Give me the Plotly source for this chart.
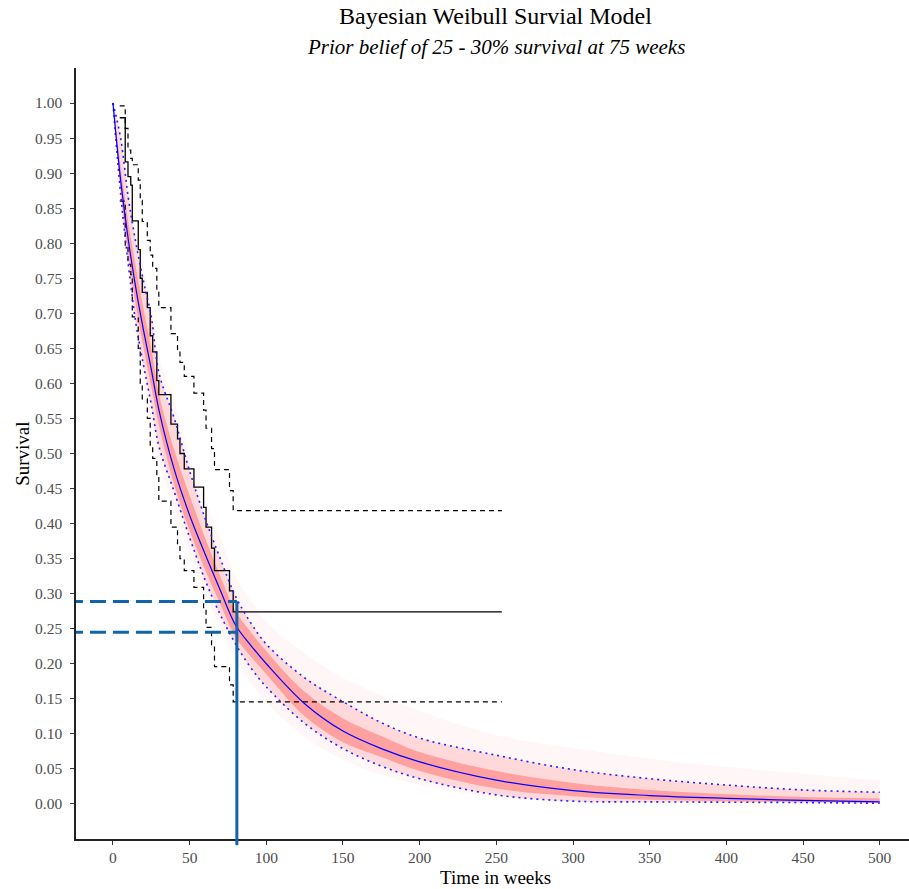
import plotly.graph_objects as go

# ---------------- data ----------------
# Kaplan-Meier estimate (step curve) with log-log confidence limits
km_time = [4.4, 8.0, 9.8, 11.6, 12.6, 16.5, 17.8, 19.1, 22.4, 24.3, 25.9, 28.6, 29.9,
           37.8, 42.1, 43.7, 46.5, 52.8, 59.1, 60.7, 64.3, 66.2, 76.0, 78.4, 253.6]
km_surv = [0.979, 0.916, 0.895, 0.883, 0.832, 0.791, 0.750, 0.730, 0.708, 0.668, 0.645, 0.604, 0.584,
           0.542, 0.521, 0.500, 0.478, 0.452, 0.423, 0.395, 0.365, 0.333, 0.304, 0.274, 0.274]
km_upper = [0.996, 0.964, 0.933, 0.921, 0.912, 0.890, 0.861, 0.831, 0.804, 0.783, 0.764, 0.733, 0.708,
            0.671, 0.647, 0.630, 0.610, 0.586, 0.562, 0.536, 0.507, 0.477, 0.447, 0.4185, 0.4185]
km_lower = [0.860, 0.795, 0.770, 0.755, 0.695, 0.650, 0.600, 0.578, 0.550, 0.510, 0.493, 0.470, 0.432,
            0.395, 0.370, 0.350, 0.333, 0.309, 0.280, 0.252, 0.225, 0.196, 0.170, 0.1455, 0.1455]

# Bayesian Weibull posterior survival curves
t_grid = [0, 5, 10, 15, 20, 25, 30, 40, 50, 60, 70, 80, 90, 100, 125, 150, 175, 200,
          250, 300, 350, 400, 450, 500]
post_median = [1.0, 0.89, 0.805, 0.735, 0.675, 0.62, 0.562, 0.477, 0.412, 0.357, 0.305, 0.255,
               0.226, 0.200, 0.143, 0.104, 0.079, 0.060, 0.034, 0.019, 0.012, 0.008, 0.005, 0.003]
cri_upper = [1.0, 0.95, 0.865, 0.80, 0.745, 0.695, 0.615, 0.55, 0.475, 0.408, 0.35, 0.296,
             0.258, 0.228, 0.18, 0.146, 0.116, 0.094, 0.0695, 0.049, 0.036, 0.027, 0.020, 0.0167]
cri_lower = [1.0, 0.87, 0.77, 0.685, 0.625, 0.57, 0.51, 0.445, 0.38, 0.32, 0.27, 0.228,
             0.194, 0.167, 0.115, 0.079, 0.054, 0.036, 0.013, 0.004, 0.003, 0.0025, 0.002, 0.001]
# extent of the faint posterior draws
draws_outer_upper = [1.0, 0.96, 0.88, 0.82, 0.765, 0.715, 0.64, 0.575, 0.5, 0.435, 0.38, 0.325,
                     0.29, 0.26, 0.215, 0.18, 0.155, 0.133, 0.098, 0.08, 0.065, 0.053, 0.043, 0.034]
draws_outer_lower = [1.0, 0.86, 0.755, 0.665, 0.6, 0.545, 0.49, 0.42, 0.355, 0.3, 0.25, 0.205,
                     0.172, 0.145, 0.095, 0.063, 0.042, 0.027, 0.009, 0.003, 0.002, 0.0015, 0.001, 0.0005]
# dense core of the posterior draws
draws_core_upper = [1.0, 0.91, 0.83, 0.765, 0.705, 0.65, 0.585, 0.505, 0.44, 0.38, 0.325, 0.275,
                    0.245, 0.218, 0.16, 0.122, 0.097, 0.074, 0.047, 0.03, 0.02, 0.014, 0.01, 0.008]
draws_core_lower = [1.0, 0.875, 0.785, 0.71, 0.65, 0.595, 0.54, 0.455, 0.39, 0.335, 0.285, 0.238,
                    0.21, 0.185, 0.125, 0.088, 0.067, 0.047, 0.022, 0.011, 0.006, 0.004, 0.003, 0.002]

# prior belief reference lines
prior_time = 80.8
prior_surv_high = 0.289
prior_surv_low = 0.245

x_ticks = list(range(0, 501, 50))
y_ticks = [round(i * 0.05, 2) for i in range(21)]
y_tick_text = [f"{v:.2f}" for v in y_ticks]

FONT = "Liberation Serif"
REF_BLUE = "#1064AA"

fig = go.Figure()


def band(upper, lower, color):
    fig.add_trace(go.Scatter(x=t_grid, y=upper, mode="lines", line=dict(width=0, shape="spline"),
                             hoverinfo="skip", showlegend=False))
    fig.add_trace(go.Scatter(x=t_grid, y=lower, mode="lines", line=dict(width=0, shape="spline"),
                             fill="tonexty", fillcolor=color, hoverinfo="skip", showlegend=False))


band(draws_outer_upper, draws_outer_lower, "rgba(255,0,0,0.03)")
band(cri_upper, cri_lower, "rgba(255,0,0,0.12)")
band(draws_core_upper, draws_core_lower, "rgba(255,0,0,0.26)")

# KM curves
fig.add_trace(go.Scatter(x=km_time, y=km_upper, mode="lines",
                         line=dict(color="black", width=1.2, dash="5px,4px", shape="hv"), showlegend=False))
fig.add_trace(go.Scatter(x=km_time, y=km_lower, mode="lines",
                         line=dict(color="black", width=1.2, dash="5px,4px", shape="hv"), showlegend=False))
fig.add_trace(go.Scatter(x=km_time, y=km_surv, mode="lines",
                         line=dict(color="black", width=1.3, shape="hv"), showlegend=False))

# posterior median and credible bounds
fig.add_trace(go.Scatter(x=t_grid, y=cri_upper, mode="lines",
                         line=dict(color="#2020FF", width=1.6, dash="2px,4px", shape="spline"), showlegend=False))
fig.add_trace(go.Scatter(x=t_grid, y=cri_lower, mode="lines",
                         line=dict(color="#2020FF", width=1.6, dash="2px,4px", shape="spline"), showlegend=False))
fig.add_trace(go.Scatter(x=t_grid, y=post_median, mode="lines",
                         line=dict(color="#0000FF", width=1.2, shape="spline"), showlegend=False))

# prior reference lines
shapes = [
    dict(type="line", xref="x", yref="y", x0=-30, x1=prior_time, y0=prior_surv_high, y1=prior_surv_high,
         line=dict(color=REF_BLUE, width=3, dash="16px,7px")),
    dict(type="line", xref="x", yref="y", x0=-30, x1=prior_time, y0=prior_surv_low, y1=prior_surv_low,
         line=dict(color=REF_BLUE, width=3, dash="16px,7px")),
    dict(type="line", xref="x", yref="y", x0=prior_time, x1=prior_time, y0=prior_surv_high, y1=-0.05,
         line=dict(color=REF_BLUE, width=3)),
    dict(type="line", xref="x", yref="paper", x0=prior_time, x1=prior_time, y0=-0.008, y1=0.0,
         line=dict(color=REF_BLUE, width=3)),
]

annotations = [
    dict(text="Bayesian Weibull Survial Model", xref="paper", yref="paper", x=0.504, y=1.067,
         showarrow=False, xanchor="center", yanchor="middle", font=dict(family=FONT, size=24, color="black")),
    dict(text="<i>Prior belief of 25 - 30% survival at 75 weeks</i>", xref="paper", yref="paper",
         x=0.504, y=1.027, showarrow=False, xanchor="center", yanchor="middle",
         font=dict(family=FONT, size=21, color="black")),
    dict(text="Survival", xref="paper", yref="paper", x=-0.0644, y=0.5, textangle=-90,
         showarrow=False, xanchor="center", yanchor="middle", font=dict(family=FONT, size=19, color="black")),
    dict(text="Time in weeks", xref="paper", yref="paper", x=0.504, y=-0.0495,
         showarrow=False, xanchor="center", yanchor="middle", font=dict(family=FONT, size=19, color="black")),
]

fig.update_layout(
    width=909, height=889,
    margin=dict(l=76, r=0, t=68, b=50, pad=0),
    plot_bgcolor="white", paper_bgcolor="white",
    shapes=shapes, annotations=annotations,
    showlegend=False,
    xaxis=dict(range=[-24.1, 519.1], tickmode="array", tickvals=x_ticks, showgrid=False, zeroline=False,
               showline=True, linecolor="#222222", linewidth=1.5, ticks="outside", ticklen=4,
               tickcolor="#333333", tickwidth=1.2,
               tickfont=dict(family=FONT, size=15.5, color="#4D4D4D")),
    yaxis=dict(range=[-0.05, 1.05], tickmode="array", tickvals=y_ticks, ticktext=y_tick_text,
               showgrid=False, zeroline=False,
               showline=True, linecolor="#222222", linewidth=1.5, ticks="outside", ticklen=4,
               tickcolor="#333333", tickwidth=1.2, ticklabelstandoff=5,
               tickfont=dict(family=FONT, size=15.5, color="#4D4D4D")),
)

fig.write_html("out.html", post_script="document.body.style.margin='0';",
               config={"displayModeBar": False})
